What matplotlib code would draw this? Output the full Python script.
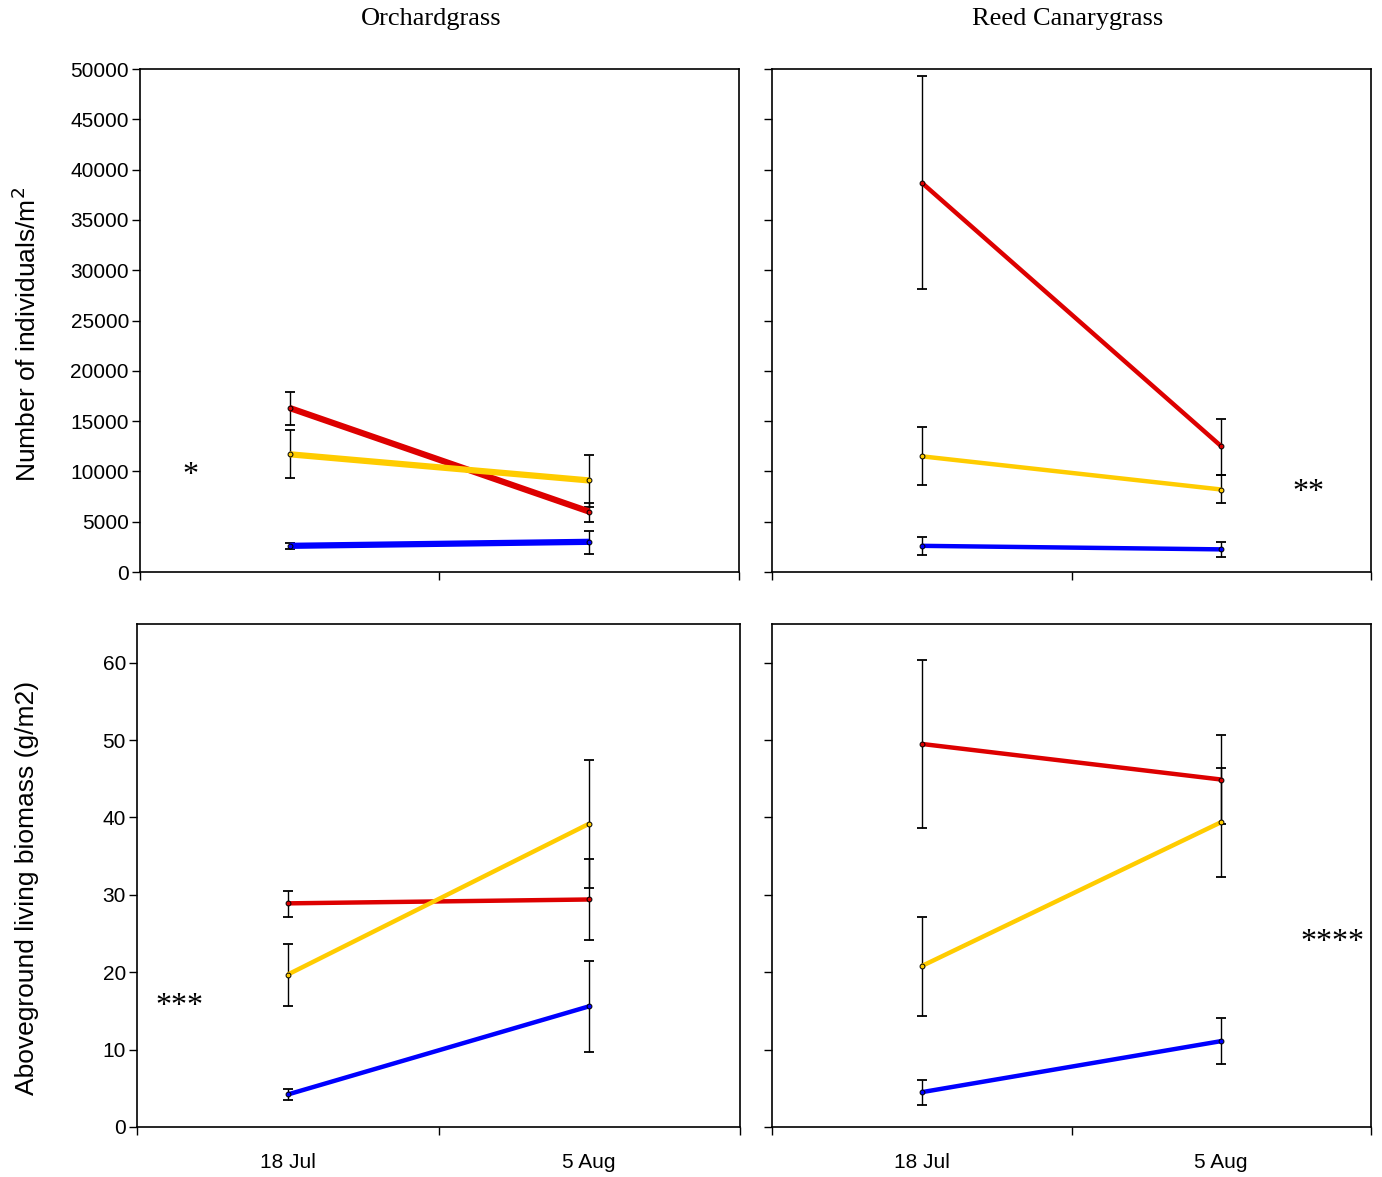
import matplotlib
matplotlib.use('Agg')
import matplotlib.pyplot as plt
from matplotlib import font_manager

# data
dates = ["18 Jul", "5 Aug"]
groups = ["red", "yellow", "blue"]

# number of individuals / m2 : mean, upper end of bar, lower end of bar
orch_num_mean = {"red": [16300, 6000], "yellow": [11700, 9100], "blue": [2600, 3000]}
orch_num_hi = {"red": [17900, 6900], "yellow": [14100, 11650], "blue": [2900, 4100]}
orch_num_lo = {"red": [14600, 5000], "yellow": [9300, 6500], "blue": [2300, 1800]}

reed_num_mean = {"red": [38700, 12500], "yellow": [11500, 8200], "blue": [2600, 2250]}
reed_num_hi = {"red": [49300, 15200], "yellow": [14400, 9600], "blue": [3500, 2950]}
reed_num_lo = {"red": [28100, 9600], "yellow": [8600, 6850], "blue": [1650, 1500]}

# aboveground living biomass (g/m2)
orch_bio_mean = {"red": [28.9, 29.4], "yellow": [19.7, 39.2], "blue": [4.2, 15.6]}
orch_bio_hi = {"red": [30.5, 34.6], "yellow": [23.6, 47.4], "blue": [4.9, 21.4]}
orch_bio_lo = {"red": [27.2, 24.2], "yellow": [15.7, 30.9], "blue": [3.5, 9.7]}

reed_bio_mean = {"red": [49.5, 44.9], "yellow": [20.8, 39.4], "blue": [4.5, 11.1]}
reed_bio_hi = {"red": [60.4, 50.6], "yellow": [27.2, 46.4], "blue": [6.1, 14.1]}
reed_bio_lo = {"red": [38.6, 39.2], "yellow": [14.3, 32.3], "blue": [2.9, 8.1]}

num_ticks = list(range(0, 50001, 5000))
bio_ticks = list(range(0, 61, 10))

COLORS = {"red": "#DD0000", "yellow": "#FFCC00", "blue": "#0000FF"}
X_POS = [0.5, 1.5]

serif = "Liberation Serif"
sans = "Liberation Sans"
names = {f.name for f in font_manager.fontManager.ttflist}
narrow = "Liberation Sans Narrow" if "Liberation Sans Narrow" in names else sans

W, H = 1382, 1177
fig = plt.figure(figsize=(W / 100, H / 100), dpi=100)


def px_axes(left, top, right, bottom):
    return fig.add_axes([left / W, 1 - bottom / H, (right - left) / W, (bottom - top) / H])


def draw_panel(ax, mean, hi, lo, ylim, yticks, show_ylabels, show_xlabels, lw):
    for g in groups:
        m = mean[g]
        err = [[m[i] - lo[g][i] for i in range(2)], [hi[g][i] - m[i] for i in range(2)]]
        ax.errorbar(X_POS, m, yerr=err, fmt="none", ecolor="black", elinewidth=1,
                    capsize=3.5, capthick=1.3, zorder=2)
        ax.plot(X_POS, m, color=COLORS[g], lw=lw, zorder=3, solid_capstyle="butt")
        ax.plot(X_POS, m, "o", ms=3.5, mfc=COLORS[g], mec="black", mew=0.7, zorder=4)
    ax.set_xlim(0, 2)
    ax.set_ylim(*ylim)
    ax.set_xticks([0, 1, 2])
    ax.set_xticklabels([])
    ax.set_xticks(X_POS, minor=True)
    ax.set_xticklabels(dates if show_xlabels else ["", ""], minor=True, family=narrow, fontsize=15)
    ax.tick_params(axis="x", which="minor", length=0, pad=19)
    ax.tick_params(axis="x", which="major", direction="out", length=6, width=1)
    ax.set_yticks(yticks)
    if show_ylabels:
        ax.set_yticklabels([str(t) for t in yticks], family=sans, fontsize=15)
    else:
        ax.set_yticklabels([])
    ax.tick_params(axis="y", direction="out", length=6, width=1, pad=2)
    for sp in ax.spines.values():
        sp.set_linewidth(1.2)


ax1 = px_axes(140, 69, 739, 572)
draw_panel(ax1, orch_num_mean, orch_num_hi, orch_num_lo, (0, 50000), num_ticks, True, False, 4.5)
ax1.text(0.17, 9600, "*", family=serif, fontsize=23, ha="center", va="center")

ax2 = px_axes(772, 69, 1371, 572)
draw_panel(ax2, reed_num_mean, reed_num_hi, reed_num_lo, (0, 50000), num_ticks, False, False, 3.2)
ax2.text(1.79, 7900, "**", family=serif, fontsize=23, ha="center", va="center")

ax3 = px_axes(137, 624, 740, 1127)
draw_panel(ax3, orch_bio_mean, orch_bio_hi, orch_bio_lo, (0, 65), bio_ticks, True, True, 3.2)
ax3.text(0.14, 15.6, "***", family=serif, fontsize=23, ha="center", va="center")

ax4 = px_axes(772, 624, 1371, 1127)
draw_panel(ax4, reed_bio_mean, reed_bio_hi, reed_bio_lo, (0, 65), bio_ticks, False, True, 3.2)
ax4.text(1.87, 23.8, "****", family=serif, fontsize=23, ha="center", va="center")

fig.text(431 / W, 1 - 19 / H, "Orchardgrass", family=serif, fontsize=19, ha="center", va="center")
fig.text(1068 / W, 1 - 19 / H, "Reed Canarygrass", family=serif, fontsize=19, ha="center", va="center")

fig.text(27 / W, 1 - 334 / H, "Number of individuals/m$^2$", family=sans, fontsize=19,
         rotation=90, ha="center", va="center")
fig.text(27 / W, 1 - 888 / H, "Aboveground living biomass (g/m2)", family=sans, fontsize=19,
         rotation=90, ha="center", va="center")

fig.savefig("out.png", dpi=100)
